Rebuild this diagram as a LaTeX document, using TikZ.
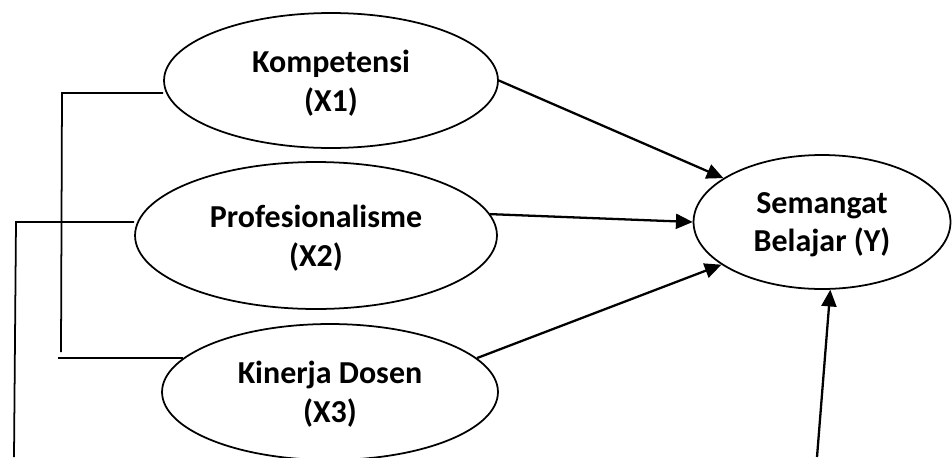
\documentclass[tikz,border=0pt]{standalone}
\usepackage{fontspec}
\setmainfont{Carlito}
\usetikzlibrary{shapes.geometric,arrows.meta}

\begin{document}
\begin{tikzpicture}[x=0.02cm,y=-0.02cm,
    var/.style={draw, ellipse, line width=1pt, inner sep=0pt, align=center,
      text depth=0pt, font=\bfseries\fontsize{18.2}{22}\selectfont},
    path/.style={line width=1.3pt, -{Triangle[length=9.5pt,width=8.5pt]}},
    link/.style={line width=1pt}]
    \useasboundingbox (0,0) rectangle (952,457);

    \node[var, minimum width=6.68cm, minimum height=2.7cm]  (komp) at (331,80.5) {Kompetensi\\(X1)};
    \node[var, minimum width=7.24cm, minimum height=2.94cm] (prof) at (316,235.5) {Profesionalisme\\(X2)};
    \node[var, minimum width=6.72cm, minimum height=2.72cm] (kin)  at (330,392) {Kinerja Dosen\\(X3)};
    \node[var, minimum width=5.14cm, minimum height=2.68cm] (sem)  at (822,222) {Semangat\\Belajar (Y)};

    \coordinate (k1) at (62,93);
    \coordinate (k2) at (61,352);
    \coordinate (k3) at (58,358);
    \coordinate (p1) at (16,222);
    \coordinate (p2) at (14,457);
    \coordinate (e1) at (817,457);

    \draw [link] (k2) -- (k1) -- (k1 -| komp.west);
    \draw [link] (k3) -- (k3 -| kin.167);
    \draw [link] (p2) -- (p1) -- (p1 -| prof.west);

    \draw [path] (komp.east) -- (sem.156);
    \draw [path] (prof.7) -- (sem.west);
    \draw [path] (kin.13) -- (sem.203);
    \draw [path] (e1) -- (sem.-83);
  \end{tikzpicture}
\end{document}
